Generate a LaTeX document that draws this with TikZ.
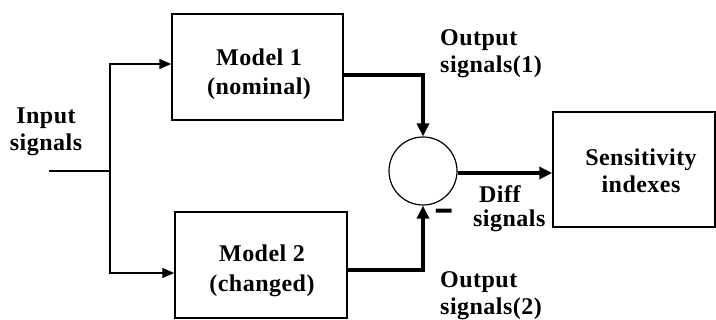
\documentclass[tikz,border=0pt]{standalone}
\usepackage{fontspec}
\setmainfont{Liberation Serif}[BoldFont={Liberation Serif Bold},LetterSpace=2]
\usetikzlibrary{arrows.meta}
\newcommand\lbltwo[3]{{\fontsize{24}{#1}\selectfont\bfseries\begin{tabular}[t]{@{}#2@{}}#3\end{tabular}}}
\begin{document}
\begin{tikzpicture}[x=1pt,y=-1pt,
  blk/.style={draw,line width=1.5pt,inner sep=0pt},
  thin/.style={line width=1.5pt,-{Triangle[length=12pt,width=10pt]}},
  fat/.style={line width=4pt,-{Triangle[length=13pt,width=12pt]}},
  lbl/.style={inner sep=0pt,anchor=base}]
\useasboundingbox (0,0) rectangle (716,320);
% blocks
\node[blk,minimum width=171pt,minimum height=106pt] (m1) at (257.5,67) {};
\node[blk,minimum width=172pt,minimum height=106pt] (m2) at (261,265) {};
\node[draw,circle,line width=1.2pt,minimum size=68pt,inner sep=0pt] (sum) at (423,171) {};
\node[blk,minimum width=162pt,minimum height=115pt] (sens) at (634,169.5) {};
% labels
\node[lbl] (tin) at (46,124) {\lbltwo{27}{c}{Input\\signals}};
\node[lbl] (tm1) at (259,66) {\lbltwo{29}{c}{Model 1\\(nominal)}};
\node[lbl] (tm2) at (262,262) {\lbltwo{30}{c}{Model 2\\(changed)}};
\node[lbl,anchor=base west] (to1) at (440,46) {\lbltwo{27}{l}{Output\\signals(1)}};
\node[lbl,anchor=base west] (to2) at (440,288) {\lbltwo{27}{l}{Output\\signals(2)}};
\node[lbl,anchor=base west] (tdiff) at (473,203) {\lbltwo{24}{l}{\hspace{6pt}Diff\\signals}};
\node[lbl] (tsens) at (641,166) {\lbltwo{27}{c}{Sensitivity\\indexes}};
\node[inner sep=0pt] (minus) at (444.5,217) {\fontsize{22}{27}\selectfont\bfseries\scalebox{1.4}[2.6]{–}};
% connectors
\coordinate (in) at (49,171);
\coordinate (j) at (110,171);
\draw[line width=1.5pt] (in) -- (j);
\draw[thin] (j) |- ([yshift=3pt]m1.west);
\draw[thin] (j) |- ([yshift=-8pt]m2.west);
\draw[fat] ([yshift=-8pt]m1.east) -| (sum.north);
\draw[fat] ([yshift=-5pt]m2.east) -| (sum.south);
\draw[fat] ([yshift=-2pt]sum.east) -- ([yshift=-2pt]sum.east -| sens.west);
\end{tikzpicture}
\end{document}
